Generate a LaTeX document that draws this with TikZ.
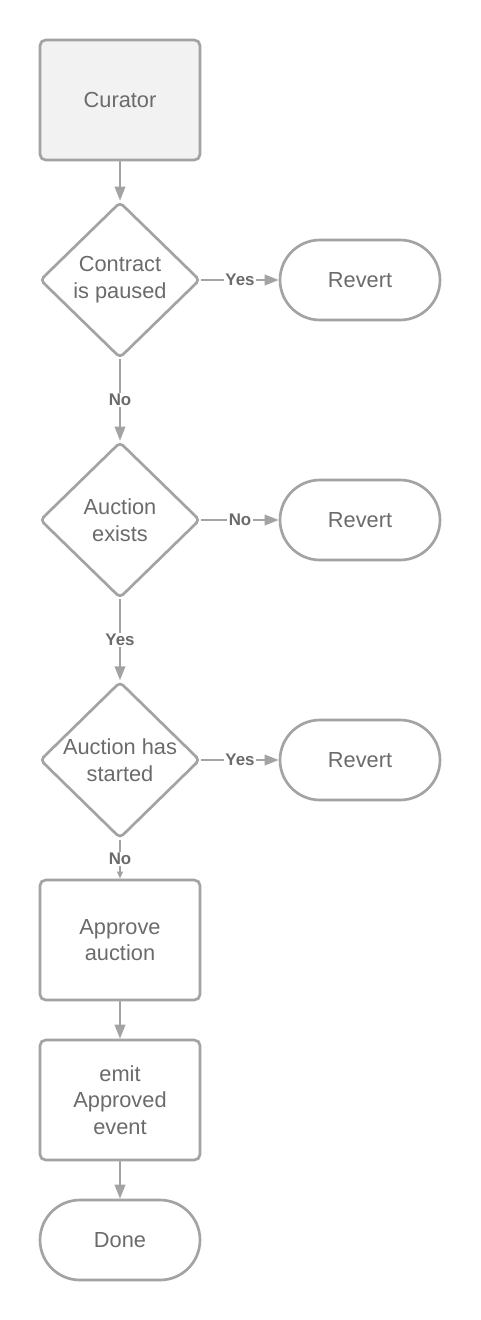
\documentclass[tikz,border=0pt]{standalone}
\usepackage{fontspec}
\setmainfont{Liberation Sans}
\usetikzlibrary{positioning, arrows.meta, shapes.geometric}

\definecolor{linegray}{HTML}{A3A3A3}
\definecolor{textgray}{HTML}{6B6B6B}
\definecolor{boxfill}{HTML}{F2F2F2}

\begin{document}
\begin{tikzpicture}[
    >={Triangle[length=10pt,width=7.5pt]},
    font=\fontsize{15.5}{19}\selectfont,
    text=textgray,
    process/.style={rectangle, draw=linegray, line width=1.9pt, rounded corners=4pt,
        minimum width=4cm, minimum height=3cm, align=center, fill=white},
    decision/.style={diamond, draw=linegray, line width=1.9pt, rounded corners=3pt,
        minimum width=4cm, minimum height=3.9cm, inner sep=0pt, align=center, fill=white},
    terminal/.style={rectangle, draw=linegray, line width=1.9pt, rounded corners=1cm,
        minimum width=4cm, minimum height=2cm, align=center, fill=white},
    flow/.style={->, draw=linegray, line width=1.4pt},
    answer/.style={font=\fontsize{12}{14}\selectfont\bfseries, fill=white, inner sep=1pt, midway}
]

    % --- fundo ---
    \useasboundingbox[fill=white] (0,0) rectangle (12,-33);

    % --- coluna principal ---
    \node[process, fill=boxfill] (curator) at (3, -2.5) {Curator};
    \node[decision] (paused)  at (3, -7)  {Contract\\is paused};
    \node[decision] (exists)  at (3, -13) {Auction\\exists};
    \node[decision] (started) at (3, -19) {Auction has\\started};
    \node[process] (approve) at (3, -23.5) {Approve\\auction};
    \node[process] (emit)    at (3, -27.5) {emit\\Approved\\event};
    \node[terminal] (done)   at (3, -31)   {Done};

    % --- saidas de erro ---
    \node[terminal] (revert1) at (9, -7)  {Revert};
    \node[terminal] (revert2) at (9, -13) {Revert};
    \node[terminal] (revert3) at (9, -19) {Revert};

    % Conexões verticais
    \draw[flow] (curator) -- (paused);
    \draw[flow] (paused) -- node[answer] {No} (exists);
    \draw[flow] (exists) -- node[answer] {Yes} (started);
    \draw[flow, -{Triangle[length=5pt,width=4pt]}] (started) -- node[answer] {No} (approve);
    \draw[flow] (approve) -- (emit);
    \draw[flow] (emit) -- (done);

    % Conexões horizontais
    \draw[flow] (paused) -- node[answer] {Yes} (revert1);
    \draw[flow] (exists) -- node[answer] {No} (revert2);
    \draw[flow] (started) -- node[answer] {Yes} (revert3);

\end{tikzpicture}
\end{document}
